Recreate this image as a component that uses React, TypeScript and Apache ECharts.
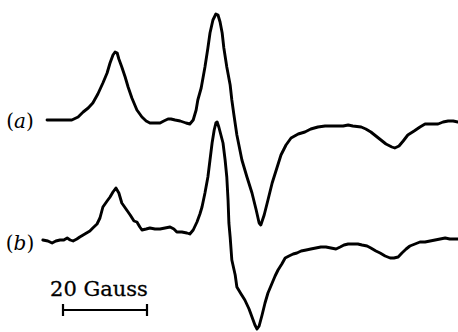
import React, { useEffect, useRef } from "react";
import * as echarts from "echarts";

// EPR derivative spectra: [field offset (G), signal (arb. units)]
const spectrumA: [number, number][] = [
  [1.2, 0], [4.3, 0], [7.1, 0], [8.6, 3], [9.8, 8], [11.0, 12], [12.1, 17], [13.3, 26],
  [14.5, 37], [15.5, 47], [16.2, 57], [16.9, 65], [17.4, 68], [17.9, 67], [18.3, 61],
  [19.0, 53], [19.8, 43], [20.5, 33], [21.4, 22], [22.6, 10], [23.8, 3], [24.8, -1],
  [25.7, -3], [26.9, -3], [28.1, -3], [29.0, -1], [30.0, 1], [30.7, 1], [31.7, 0],
  [32.9, -1], [34.3, -3], [35.2, -4], [36.0, 0], [36.7, 10], [37.1, 20], [37.9, 32],
  [38.8, 53], [39.5, 72], [40.0, 87], [40.7, 100], [41.4, 106], [41.9, 105], [42.4, 98],
  [42.9, 87], [43.3, 72], [44.0, 53], [44.8, 35], [45.2, 20], [45.7, 5], [46.4, -15],
  [47.6, -40], [48.8, -57], [50.0, -73], [51.0, -90], [51.7, -103], [52.1, -105],
  [52.9, -95], [53.8, -80], [54.8, -63], [56.0, -47], [56.9, -35], [58.1, -25],
  [59.3, -18], [61.0, -14], [62.6, -12], [64.0, -9], [65.7, -7], [67.4, -6], [69.8, -6],
  [71.7, -6], [72.9, -5], [74.0, -6], [76.0, -7], [77.1, -9], [78.3, -12], [79.5, -16],
  [80.7, -20], [81.9, -24], [83.3, -27], [84.0, -28], [85.0, -26], [86.0, -21],
  [87.1, -15], [88.6, -11], [90.0, -7], [91.2, -4], [92.9, -4], [94.3, -4], [95.5, -2],
  [96.7, -1], [97.9, -1], [99.0, -2],
];

const spectrumB: [number, number][] = [
  [0.2, 0], [1.4, -1], [2.4, -3], [3.3, -1], [4.3, 0], [5.2, 0], [6.0, 2], [6.7, 0],
  [7.4, -1], [8.3, 1], [9.0, 3], [10.2, 6], [11.4, 9], [12.1, 12], [13.1, 16], [13.8, 22],
  [14.5, 33], [15.5, 39], [16.2, 43], [16.9, 48], [17.6, 52], [18.3, 47], [19.0, 37],
  [20.0, 31], [21.0, 25], [21.9, 19], [22.6, 18], [23.3, 13], [23.8, 10], [24.8, 11],
  [25.7, 12], [26.9, 11], [28.1, 11], [29.3, 12], [30.5, 13], [31.4, 11], [32.1, 8],
  [33.3, 8], [34.5, 7], [35.2, 6], [36.0, 10], [36.9, 18], [37.6, 26], [38.1, 33],
  [38.8, 47], [39.5, 63], [40.0, 80], [40.5, 97], [41.0, 110], [41.4, 117], [41.7, 118],
  [42.1, 113], [42.6, 105], [43.1, 97], [43.6, 80], [44.0, 63], [44.3, 40], [44.5, 17],
  [44.8, 3], [45.2, -20], [46.0, -35], [46.4, -47], [47.4, -54], [48.3, -60], [49.3, -69],
  [50.0, -77], [50.7, -85], [51.2, -89], [51.7, -86], [52.4, -75], [53.1, -63],
  [53.8, -53], [54.8, -43], [55.5, -36], [56.2, -30], [57.1, -24], [57.9, -18],
  [58.8, -16], [59.8, -14], [60.7, -13], [61.7, -11], [62.9, -10], [64.0, -9], [65.2, -8],
  [66.4, -7], [67.6, -7], [68.8, -8], [70.0, -9], [71.0, -7], [71.9, -5], [72.9, -4],
  [74.0, -4], [75.2, -4], [76.2, -5], [77.4, -6], [78.3, -8], [79.5, -11], [80.5, -13],
  [81.7, -16], [82.9, -18], [83.8, -18], [84.8, -17], [85.7, -13], [86.7, -9], [87.6, -6],
  [88.8, -4], [90.0, -2], [91.2, -2], [92.4, -1], [93.6, 0], [94.8, 1], [96.0, 2],
  [97.1, 1], [98.3, 1], [99.0, 1],
];

const traceLabels = ["a", "b"];
const scaleBar = { start: 5, length: 20, label: "20 Gauss" };

const SERIF = '"DejaVu Serif", "Liberation Serif", serif';

export default function App() {
  const ref = useRef<HTMLDivElement>(null);

  useEffect(() => {
    if (!ref.current) return;
    const chart = echarts.init(ref.current, undefined, { renderer: "svg" });

    const lineStyle = { color: "#000", width: 2.9, join: "round" as const, cap: "round" as const };

    chart.setOption({
      animation: false,
      backgroundColor: "#fff",
      grid: { left: 0, right: 0, top: 0, bottom: 0 },
      xAxis: { type: "value", min: -10, max: 99.05, show: false },
      yAxis: [
        { type: "value", min: -212, max: 120, show: false },
        { type: "value", min: -92, max: 240, show: false },
      ],
      series: [
        {
          type: "line",
          yAxisIndex: 0,
          data: spectrumA,
          showSymbol: false,
          lineStyle,
        },
        {
          type: "line",
          yAxisIndex: 1,
          data: spectrumB,
          showSymbol: false,
          lineStyle,
        },
      ],
    });

    const x0 = chart.convertToPixel({ xAxisIndex: 0 }, scaleBar.start) as number;
    const x1 = chart.convertToPixel({ xAxisIndex: 0 }, scaleBar.start + scaleBar.length) as number;
    const yA = chart.convertToPixel({ yAxisIndex: 0 }, 0) as number;
    const yB = chart.convertToPixel({ yAxisIndex: 1 }, 0) as number;
    const barY = 310;

    const rich = {
      p: { fontFamily: SERIF, fontSize: 20, fill: "#000" },
      i: { fontFamily: SERIF, fontSize: 20, fontStyle: "italic", fill: "#000" },
    };

    chart.setOption({
      graphic: [
        {
          type: "text",
          x: 20,
          y: yA + 1,
          style: {
            text: `{p|(}{i|${traceLabels[0]}}{p|)}`,
            rich,
            align: "center",
            verticalAlign: "middle",
          },
        },
        {
          type: "text",
          x: 20,
          y: yB + 3,
          style: {
            text: `{p|(}{i|${traceLabels[1]}}{p|)}`,
            rich,
            align: "center",
            verticalAlign: "middle",
          },
        },
        {
          type: "text",
          x: (x0 + x1) / 2 - 6,
          y: 289,
          style: {
            text: scaleBar.label,
            fontFamily: SERIF,
            fontSize: 21,
            fill: "#000",
            stroke: "#000",
            lineWidth: 0.3,
            align: "center",
            verticalAlign: "middle",
          },
        },
        {
          type: "line",
          shape: { x1: x0, y1: barY, x2: x1, y2: barY },
          style: { stroke: "#000", lineWidth: 2.2 },
        },
        {
          type: "line",
          shape: { x1: x0, y1: barY - 6, x2: x0, y2: barY + 6 },
          style: { stroke: "#000", lineWidth: 2.2 },
        },
        {
          type: "line",
          shape: { x1: x1, y1: barY - 6, x2: x1, y2: barY + 6 },
          style: { stroke: "#000", lineWidth: 2.2 },
        },
      ],
    });

    return () => chart.dispose();
  }, []);

  return (
    <div
      ref={ref}
      style={{ position: "fixed", left: 0, top: 0, width: 458, height: 332 }}
    />
  );
}
